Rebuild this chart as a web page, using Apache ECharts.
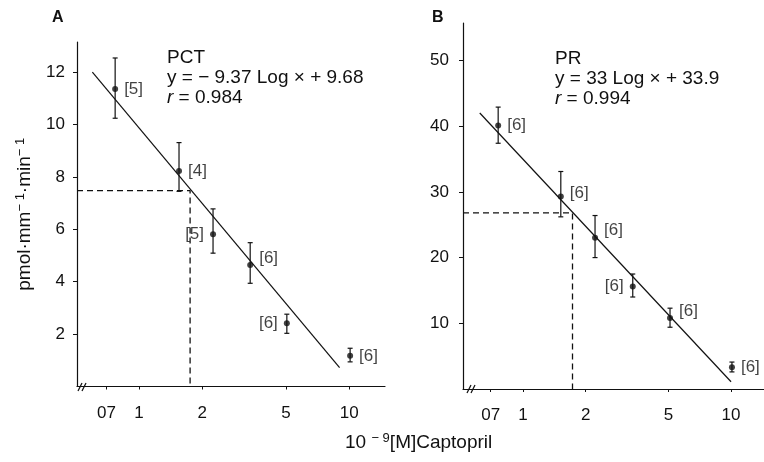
<!DOCTYPE html>
<html>
<head>
<meta charset="utf-8">
<script src="https://cdn.jsdelivr.net/npm/echarts@6/dist/echarts.min.js"></script>
<style>
  html, body { margin: 0; padding: 0; background: #fff; }
  #chart { width: 764px; height: 462px; }
</style>
</head>
<body>
<div id="chart"></div>
<script>
// panel A : PCT
var concA = [0.77, 1.55, 2.25, 3.38, 5.05, 10.1];
var meanA = [11.36, 8.23, 5.81, 4.64, 2.41, 1.17];
var hiA = [12.54, 9.31, 6.78, 5.49, 2.76, 1.46];
var loA = [10.24, 7.45, 5.09, 3.94, 2.03, 0.94];
var nA = [5, 4, 5, 6, 6, 6];
var fitA = [[0.60, 12.0], [9.0, 0.72]];
var icA = [1.75, 7.48];

// panel B : PR
var concB = [0.76, 1.52, 2.22, 3.37, 5.09, 10.1];
var meanB = [40.1, 29.3, 23.0, 15.6, 10.8, 3.3];
var hiB = [42.9, 33.1, 26.4, 17.5, 12.3, 4.1];
var loB = [37.4, 26.2, 20.0, 14.0, 9.4, 2.6];
var nB = [6, 6, 6, 6, 6, 6];
var fitB = [[0.62, 42.0], [10.0, 1.1]];
var icB = [1.73, 26.8];

var xTicks = [0.7, 1, 2, 5, 10];
var xTickText = ['07', '1', '2', '5', '10'];
var yTicksA = [2, 4, 6, 8, 10, 12];
var yTicksB = [10, 20, 30, 40, 50];

var FONT = '"Liberation Sans", Arial, sans-serif';
var INK = '#111';

var chart = echarts.init(document.getElementById('chart'));

// 误差线
function errRender(params, api) {
    var x = api.value(0);
    var top = api.coord([x, api.value(2)]);
    var bot = api.coord([x, api.value(1)]);
    var w = 2.5;
    var st = { stroke: INK, lineWidth: 1.2 };
    return {
        type: 'group',
        children: [
            { type: 'line', shape: { x1: top[0], y1: top[1], x2: bot[0], y2: bot[1] }, style: st },
            { type: 'line', shape: { x1: top[0] - w, y1: top[1], x2: top[0] + w, y2: top[1] }, style: st },
            { type: 'line', shape: { x1: bot[0] - w, y1: bot[1], x2: bot[0] + w, y2: bot[1] }, style: st }
        ]
    };
}

function pointData(conc, mean, n, sides, offs) {
    return conc.map(function (c, i) {
        return {
            value: [c, mean[i]],
            label: {
                show: true,
                formatter: '[' + n[i] + ']',
                position: sides[i],
                distance: 6,
                offset: offs[i] || [0, 0],
                color: INK,
                fontFamily: FONT,
                fontSize: 17
            }
        };
    });
}

function errData(conc, lo, hi) {
    return conc.map(function (c, i) { return [c, lo[i], hi[i]]; });
}

function xAxisOpt(idx, min, max) {
    return {
        type: 'log',
        gridIndex: idx,
        min: min,
        max: max,
        logBase: 10,
        axisLine: { lineStyle: { color: INK, width: 1.2 } },
        axisTick: { customValues: xTicks, length: 3, lineStyle: { color: INK } },
        axisLabel: {
            customValues: xTicks,
            color: INK,
            fontFamily: FONT,
            fontSize: 17,
            margin: 18,
            formatter: function (v) {
                var k = xTicks.indexOf(Math.round(v * 100) / 100);
                return k >= 0 ? xTickText[k] : '';
            }
        },
        splitLine: { show: false },
        minorTick: { show: false }
    };
}

function yAxisOpt(idx, max, ticks, margin) {
    return {
        type: 'value',
        gridIndex: idx,
        min: 0,
        max: max,
        axisLine: { show: true, lineStyle: { color: INK, width: 1.2 } },
        axisTick: { show: true, customValues: ticks, length: 4, lineStyle: { color: INK } },
        axisLabel: { customValues: ticks, color: INK, fontFamily: FONT, fontSize: 17, margin: margin },
        splitLine: { show: false }
    };
}

var xMinA = 0.507, xMinB = 0.515;
var supStyle = { fontSize: 13, fontFamily: FONT, color: INK, verticalAlign: 'top', lineHeight: 22 };
var baseStyle = { fontSize: 19, fontFamily: FONT, color: INK, lineHeight: 22 };

var option = {
    animation: false,
    backgroundColor: '#fff',
    grid: [
        { left: 77, top: 42, width: 308, bottom: 75.5 },
        { left: 463, top: 23, right: 0, bottom: 73 }
    ],
    xAxis: [xAxisOpt(0, xMinA, 14.8), xAxisOpt(1, xMinB, 14.4)],
    yAxis: [
        Object.assign(yAxisOpt(0, 13.15, yTicksA, 12), {
            name: '{b|pmol·mm}{s|− 1}{b|·min}{s|− 1}',
            nameLocation: 'middle',
            nameGap: 41,
            nameTextStyle: { color: INK, fontFamily: FONT, fontSize: 19, rich: { b: baseStyle, s: supStyle } }
        }),
        yAxisOpt(1, 55.7, yTicksB, 14)
    ],
    series: [
        {
            type: 'line', xAxisIndex: 0, yAxisIndex: 0, data: fitA,
            symbol: 'none', lineStyle: { color: INK, width: 1.2 }
        },
        {
            type: 'line', xAxisIndex: 0, yAxisIndex: 0,
            data: [[xMinA, icA[1]], icA, [icA[0], 0]],
            symbol: 'none', lineStyle: { color: INK, width: 1.3, type: [6, 4] }
        },
        {
            type: 'custom', xAxisIndex: 0, yAxisIndex: 0,
            data: errData(concA, loA, hiA), renderItem: errRender
        },
        {
            type: 'scatter', xAxisIndex: 0, yAxisIndex: 0,
            symbolSize: 6, itemStyle: { color: INK },
            data: pointData(concA, meanA, nA,
                ['right', 'right', 'left', 'right', 'left', 'right'],
                [null, null, null, [0, -7], null, null])
        },
        {
            type: 'line', xAxisIndex: 1, yAxisIndex: 1, data: fitB,
            symbol: 'none', lineStyle: { color: INK, width: 1.2 }
        },
        {
            type: 'line', xAxisIndex: 1, yAxisIndex: 1,
            data: [[xMinB, icB[1]], icB, [icB[0], 0]],
            symbol: 'none', lineStyle: { color: INK, width: 1.3, type: [6, 4] }
        },
        {
            type: 'custom', xAxisIndex: 1, yAxisIndex: 1,
            data: errData(concB, loB, hiB), renderItem: errRender
        },
        {
            type: 'scatter', xAxisIndex: 1, yAxisIndex: 1,
            symbolSize: 6, itemStyle: { color: INK },
            data: pointData(concB, meanB, nB,
                ['right', 'right', 'right', 'left', 'right', 'right'],
                [null, [0, -3], [0, -8], null, [0, -7], null])
        }
    ],
    graphic: [
        { type: 'text', left: 52, top: 10, style: { text: 'A', font: 'bold 16px ' + FONT, fill: INK } },
        { type: 'text', left: 432, top: 10, style: { text: 'B', font: 'bold 16px ' + FONT, fill: INK } },
        // 回归方程
        { type: 'text', left: 167, top: 48, style: { text: 'PCT', font: '19px ' + FONT, fill: INK } },
        { type: 'text', left: 167, top: 68, style: { text: 'y = − 9.37 Log × + 9.68', font: '19px ' + FONT, fill: INK } },
        {
            type: 'text', left: 167, top: 88,
            style: {
                text: '{i|r} = 0.984', font: '19px ' + FONT, fill: INK,
                rich: { i: { fontStyle: 'italic', fontSize: 19, fontFamily: FONT, color: INK } }
            }
        },
        { type: 'text', left: 555, top: 49, style: { text: 'PR', font: '19px ' + FONT, fill: INK } },
        { type: 'text', left: 555, top: 69, style: { text: 'y = 33 Log × + 33.9', font: '19px ' + FONT, fill: INK } },
        {
            type: 'text', left: 555, top: 89,
            style: {
                text: '{i|r} = 0.994', font: '19px ' + FONT, fill: INK,
                rich: { i: { fontStyle: 'italic', fontSize: 19, fontFamily: FONT, color: INK } }
            }
        },
        {
            type: 'text', left: 345, top: 432,
            style: {
                text: '{b|10 }{s|− 9}{b|[M]Captopril}', fill: INK,
                rich: { b: baseStyle, s: supStyle }
            }
        },
        // 轴断裂符号
        { type: 'line', shape: { x1: 78, y1: 391, x2: 82, y2: 383 }, style: { stroke: INK, lineWidth: 1.2 } },
        { type: 'line', shape: { x1: 82, y1: 391, x2: 86, y2: 383 }, style: { stroke: INK, lineWidth: 1.2 } },
        { type: 'line', shape: { x1: 467, y1: 393, x2: 471, y2: 385 }, style: { stroke: INK, lineWidth: 1.2 } },
        { type: 'line', shape: { x1: 471, y1: 393, x2: 475, y2: 385 }, style: { stroke: INK, lineWidth: 1.2 } }
    ]
};

chart.setOption(option);
</script>
</body>
</html>
